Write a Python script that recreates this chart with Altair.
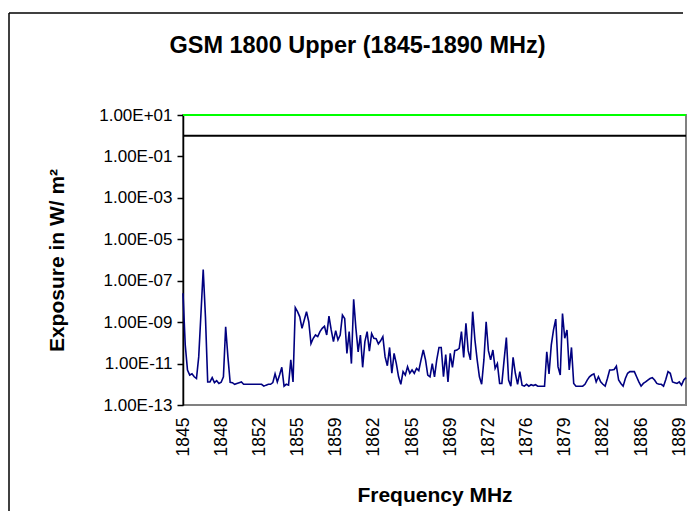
import altair as alt
import pandas as pd

# Measured exposure (W/m^2), one value per 0.2 MHz step from 1845 MHz
exposure = [
    2.5e-8, 7.9e-11, 4.9e-12, 2.8e-12, 3.2e-12, 2.3e-12, 1.9e-12, 2.1e-11, 2.6e-9, 3.5e-7,
    1.8e-9, 1.3e-12, 1.3e-12, 2.1e-12, 1.2e-12, 1.5e-12, 1.1e-12, 1.26e-12, 2.3e-12, 6.0e-10,
    2.1e-11, 1.26e-12, 1.2e-12, 1.0e-12, 1.1e-12, 1.2e-12, 1.3e-12, 1.0e-12, 1.0e-12, 1.0e-12,
    1.0e-12, 1.0e-12, 1.0e-12, 1.0e-12, 1.0e-12, 1.0e-12, 8.1e-13, 9.1e-13, 1.0e-12, 1.0e-12,
    1.2e-12, 3.2e-12, 1.3e-12, 2.8e-12, 6.6e-12, 8.1e-13, 1.0e-12, 9.1e-13, 1.5e-11, 1.3e-12,
    5.0e-9, 3.2e-9, 1.8e-9, 5.0e-10, 1.26e-9, 3.2e-9, 1.05e-9, 9.3e-11, 1.66e-10, 2.4e-10,
    2.0e-10, 3.5e-10, 5.0e-10, 6.3e-10, 2.4e-10, 1.95e-9, 4.2e-10, 1.15e-10, 3.9e-10, 1.4e-10,
    2.4e-10, 2.2e-9, 1.5e-9, 3.1e-11, 3.5e-10, 1.0e-11, 1.26e-8, 5.0e-10, 3.7e-11, 2.4e-10,
    6.6e-12, 1.15e-10, 3.5e-10, 4.0e-11, 2.8e-10, 1.66e-10, 1.6e-10, 8.9e-11, 1.26e-10, 2.0e-10,
    2.1e-11, 7.9e-12, 6.0e-11, 3.4e-12, 3.1e-11, 1.0e-11, 2.3e-12, 1.0e-12, 4.1e-12, 2.8e-12,
    7.1e-12, 3.4e-12, 4.9e-12, 3.4e-12, 5.9e-12, 4.6e-12, 1.5e-11, 4.5e-11, 1.5e-11, 2.8e-12,
    2.3e-12, 1.0e-11, 2.3e-12, 1.5e-11, 6.0e-11, 6.0e-11, 2.3e-12, 2.7e-11, 1.3e-12, 3.1e-11,
    6.6e-12, 4.2e-11, 4.5e-11, 5.4e-11, 3.5e-10, 2.0e-11, 8.7e-10, 4.2e-11, 1.5e-11, 3.2e-9,
    1.4e-10, 1.5e-11, 2.3e-12, 1.0e-12, 1.5e-11, 1.05e-9, 4.2e-11, 1.5e-11, 4.5e-11, 5.9e-12,
    1.0e-11, 1.1e-12, 1.1e-12, 1.5e-11, 1.8e-10, 1.6e-12, 8.1e-13, 2.0e-11, 3.4e-12, 1.0e-12,
    4.1e-12, 9.1e-13, 8.1e-13, 1.0e-12, 8.1e-13, 9.5e-13, 8.7e-13, 9.5e-13, 8.1e-13, 8.1e-13,
    8.1e-13, 8.1e-13, 3.7e-11, 3.2e-12, 7.8e-11, 4.2e-10, 1.4e-9, 7.1e-12, 2.8e-12, 2.6e-9,
    1.66e-10, 4.2e-10, 4.9e-12, 6.0e-11, 1.1e-12, 8.1e-13, 8.1e-13, 8.1e-13, 8.1e-13, 1.0e-12,
    1.6e-12, 2.3e-12, 2.8e-12, 3.2e-12, 1.3e-12, 2.3e-12, 1.3e-12, 1.0e-12, 8.1e-13, 1.9e-12,
    4.9e-12, 4.9e-12, 5.2e-12, 7.6e-12, 1.6e-12, 1.1e-12, 8.1e-13, 1.9e-12, 3.4e-12, 4.1e-12,
    4.1e-12, 4.1e-12, 2.3e-12, 1.3e-12, 8.1e-13, 1.1e-12, 1.3e-12, 1.6e-12, 1.9e-12, 2.1e-12,
    1.6e-12, 1.1e-12, 1.0e-12, 1.0e-12, 8.1e-13, 1.7e-12, 4.1e-12, 3.4e-12, 1.3e-12, 1.2e-12,
    1.1e-12, 1.3e-12, 9.1e-13, 1.6e-12, 2.1e-12,
]
frequency = [round(1845 + 0.2 * i, 1) for i in range(len(exposure))]

# Category tick labels (every 17th category)
x_ticks = [1845.0, 1848.4, 1851.8, 1855.2, 1858.6, 1862.0, 1865.4, 1868.8,
           1872.2, 1875.6, 1879.0, 1882.4, 1885.8, 1889.2]
y_ticks = [1e1, 1e-1, 1e-3, 1e-5, 1e-7, 1e-9, 1e-11, 1e-13]

limit_names = ["ICNIRP", "Reference"]
limit_values = [10.0, 1.0]
limit_colors = ["#00FF00", "#000000"]

FONT = "Liberation Sans"

df = pd.DataFrame({"freq": frequency, "exposure": exposure})
limits = pd.DataFrame({"name": limit_names, "value": limit_values})

x_scale = alt.Scale(domain=[1845, 1889.8], nice=False, zero=False)
y_scale = alt.Scale(type="log", domain=[1e-13, 10], nice=False)

label_expr = ("'1.00E' + (round(log(datum.value)/LN10) >= 0 ? '+' : '-') + "
              "pad(toString(abs(round(log(datum.value)/LN10))), 2, '0', 'left')")

line = alt.Chart(df).mark_line(color="#000080", strokeWidth=1.6).encode(
    x=alt.X("freq:Q", scale=x_scale,
            axis=alt.Axis(title="Frequency MHz", values=x_ticks, format=".0f",
                          labelAngle=270, ticks=False, domain=False, grid=False,
                          labelFont=FONT, labelFontSize=17.5, labelColor="#000",
                          labelPadding=12, labelFlush=False, labelOverlap=False,
                          titleFont=FONT, titleFontSize=21, titleFontWeight="bold",
                          titleColor="#000", titlePadding=29)),
    y=alt.Y("exposure:Q", scale=y_scale,
            axis=alt.Axis(title="Exposure in W/ m²", values=y_ticks, labelExpr=label_expr,
                          grid=False, domainColor="#000", domainWidth=1.5,
                          tickColor="#000", tickWidth=1.5, tickSize=6,
                          labelFont=FONT, labelFontSize=17, labelColor="#000",
                          labelPadding=5, labelFlush=False, labelOverlap=False,
                          titleFont=FONT, titleFontSize=21, titleFontWeight="bold",
                          titleColor="#000", titlePadding=31)),
)

rules = alt.Chart(limits).mark_rule(strokeWidth=2).encode(
    y=alt.Y("value:Q", scale=y_scale),
    color=alt.Color("name:N", scale=alt.Scale(domain=limit_names, range=limit_colors),
                    legend=None),
)

# Outer chart frame (top and left edges; the others fall outside the picture)
frame_data = alt.Data(values=[{"a": 1}])
frame_top = alt.Chart(frame_data).mark_rule(color="#000", strokeWidth=1.5, clip=False).encode(
    x=alt.value(-174), x2=alt.value(500), y=alt.value(-102))
frame_left = alt.Chart(frame_data).mark_rule(color="#000", strokeWidth=1.5, clip=False).encode(
    x=alt.value(-174), y=alt.value(-102), y2=alt.value(396))

chart = alt.layer(rules, line, frame_top, frame_left).properties(
    width=503, height=290,
    title=alt.TitleParams("GSM 1800 Upper (1845-1890 MHz)", font=FONT, fontSize=23.5,
                          fontWeight="bold", color="#000", anchor="middle", dx=-77,
                          frame="group", baseline="alphabetic", offset=-64),
    autosize=alt.AutoSizeParams(type="none"),
    padding={"left": 175, "top": 107, "right": 6, "bottom": 108},
).configure_view(stroke="#808080", strokeWidth=2)

chart.save("out.html", embed_options={"renderer": "svg", "actions": False})
